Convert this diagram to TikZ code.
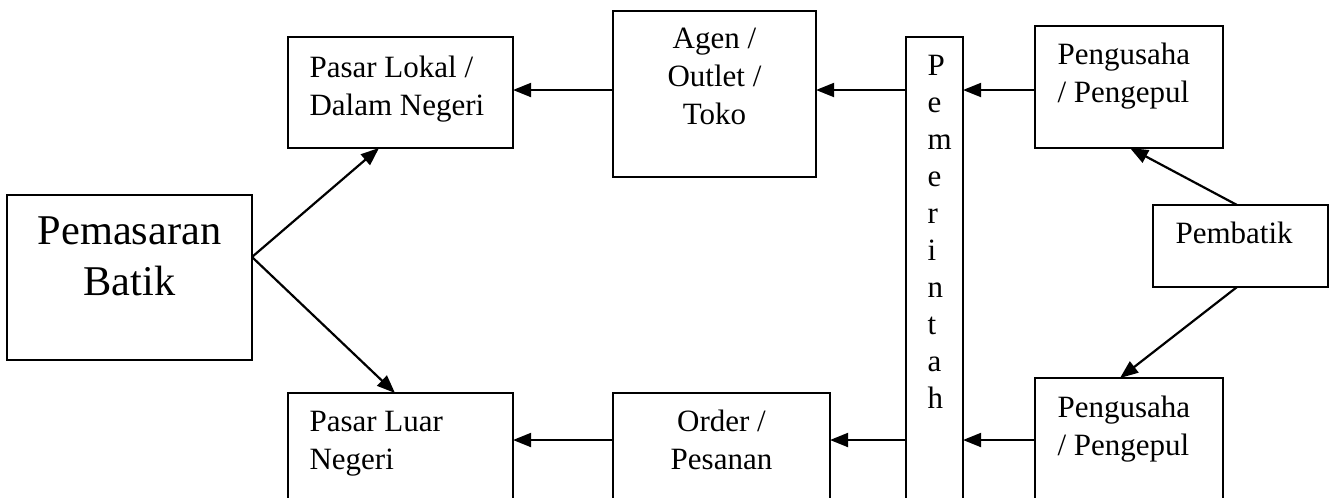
\documentclass[tikz,border=0pt]{standalone}
\usepackage{fontspec}
\setmainfont{Liberation Serif}
\usetikzlibrary{arrows.meta,calc}
\newcommand{\skala}{0.387pt}
\tikzset{
  kotak/.style={draw, line width=0.85pt, anchor=north west, inner sep=0pt, outer sep=0pt},
  teks/.style={inner sep=0pt, font=\fontsize{12}{14.7}\selectfont},
  panah/.style={line width=0.85pt, -{Triangle[length=7pt, width=5.4pt]}}
}
\begin{document}
\begin{tikzpicture}[x=\skala, y=-\skala]
  \clip (0,0) rectangle (1334,497);
  % kotak-kotak
  \node[kotak, minimum width=245*\skala, minimum height=165*\skala] (pemasaran) at (7,195) {};
  \node[kotak, minimum width=225*\skala, minimum height=111*\skala] (lokal) at (288,37) {};
  \node[kotak, minimum width=225*\skala, minimum height=150*\skala] (luar) at (288,393) {};
  \node[kotak, minimum width=203*\skala, minimum height=166*\skala] (agen) at (613,11) {};
  \node[kotak, minimum width=217*\skala, minimum height=150*\skala] (order) at (613,393) {};
  \node[kotak, minimum width=57*\skala, minimum height=500*\skala] (pemerintah) at (906,37) {};
  \node[kotak, minimum width=188*\skala, minimum height=122*\skala] (pengusahaA) at (1035,26) {};
  \node[kotak, minimum width=175*\skala, minimum height=82*\skala] (pembatik) at (1153,205) {};
  \node[kotak, minimum width=188*\skala, minimum height=150*\skala] (pengusahaB) at (1035,378) {};
  % isi teks (titik acuan = garis dasar baris terakhir)
  \node[teks, anchor=base, align=center, font=\fontsize{16.4}{19.4}\selectfont] (tpemasaran)
    at ($(pemasaran.north)+(0,100)$) {Pemasaran\\Batik};
  \node[teks, anchor=base west, align=left] (tlokal) at ($(lokal.north west)+(21,78)$) {Pasar Lokal /\\Dalam Negeri};
  \node[teks, anchor=base west, align=left] (tluar) at ($(luar.north west)+(21,76)$) {Pasar Luar\\Negeri};
  \node[teks, anchor=base, align=center] (tagen) at ($(agen.north)+(0,113)$) {Agen /\\Outlet /\\Toko};
  \node[teks, anchor=base, align=center] (torder) at ($(order.north)+(0,76)$) {Order /\\Pesanan};
  \node[teks, anchor=base west, align=left, font=\fontsize{12}{14.3}\selectfont] (tpemerintah)
    at ($(pemerintah.north west)+(21,371)$) {P\\e\\m\\e\\r\\i\\n\\t\\a\\h};
  \node[teks, anchor=base west, align=left] (tpengusahaA) at ($(pengusahaA.north west)+(22,76)$) {Pengusaha\\/ Pengepul};
  \node[teks, anchor=base west, align=left] (tpengusahaB) at ($(pengusahaB.north west)+(22,77)$) {Pengusaha\\/ Pengepul};
  \node[teks, anchor=base west] (tpembatik) at ($(pembatik.north west)+(22,38)$) {Pembatik};
  % baris panah
  \coordinate (pangkal) at (252,257);
  \coordinate (barisatas) at (0,90);
  \coordinate (barisbawah) at (0,440);
  \draw[panah] (pangkal) -- ($(lokal.south west)+(91,0)$);
  \draw[panah] (pangkal) -- ($(luar.north west)+(107,0)$);
  \draw[panah] (agen.west |- barisatas) -- (lokal.east |- barisatas);
  \draw[panah] (pemerintah.west |- barisatas) -- (agen.east |- barisatas);
  \draw[panah] (pengusahaA.west |- barisatas) -- (pemerintah.east |- barisatas);
  \draw[panah] (order.west |- barisbawah) -- (luar.east |- barisbawah);
  \draw[panah] (pemerintah.west |- barisbawah) -- (order.east |- barisbawah);
  \draw[panah] (pengusahaB.west |- barisbawah) -- (pemerintah.east |- barisbawah);
  \draw[panah] ($(pembatik.north west)+(84,0)$) -- ($(pengusahaA.south west)+(95,0)$);
  \draw[panah] ($(pembatik.south west)+(84,0)$) -- ($(pengusahaB.north west)+(85,0)$);
\end{tikzpicture}
\end{document}
